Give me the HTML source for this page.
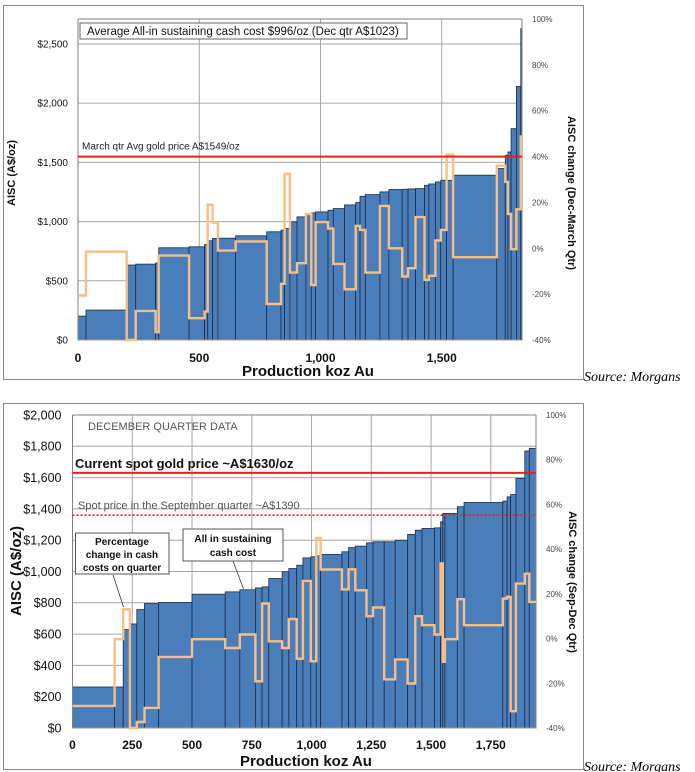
<!DOCTYPE html>
<html><head><meta charset="utf-8"><style>
html,body{margin:0;padding:0;background:#fff;width:695px;height:772px;overflow:hidden}
svg text{font-family:"Liberation Sans",sans-serif}
</style></head><body>
<svg id="svg" width="695" height="772" viewBox="0 0 695 772" xmlns="http://www.w3.org/2000/svg">
<rect x="3.5" y="5.5" width="580" height="374" fill="#fff" stroke="#888"/>
<rect x="3.5" y="403.5" width="580" height="366" fill="#fff" stroke="#888"/>
<g id="c1"></g>
<g id="c2"></g>
<text x="584" y="381" font-size="14" font-style="italic" style="font-family:'Liberation Serif',serif">Source: Morgans</text>
<text x="584" y="771" font-size="14" font-style="italic" style="font-family:'Liberation Serif',serif">Source: Morgans</text>
</svg>
<script>
// ---------- Chart 1 data ----------
const c1Edges = [0,33,201,238,320,333,458,522,535,555,577,650,778,837,852,874,903,940,962,980,1031,1053,1099,1145,1163,1185,1245,1282,1337,1361,1392,1429,1447,1474,1496,1520,1547,1727,1762,1773,1786,1808,1826,1831];
const c1Cost = [202,253,633,641,650,779,787,807,838,858,860,880,914,928,942,998,1040,1068,1074,1082,1096,1110,1141,1161,1214,1228,1251,1271,1273,1276,1279,1307,1318,1335,1349,1349,1392,1448,1560,1588,1785,2142,2629];
const c1Pct = [-20.6,-1.5,-40,-27.3,-36.6,-3.2,-30.5,-27.6,19,11.2,-1,3,-24.3,-15.5,32.5,-10.6,-6.5,15,-16,11.4,8.6,-6.8,-17.9,9.8,8,-10.6,18.5,0,-12.3,-8.7,13.6,-13.8,-12,3.4,8,40.8,-3.9,36,29,15,-0.4,17,48.8];
const c1YTicks = ["$0","$500","$1,000","$1,500","$2,000","$2,500"];
const c1YTickVals = [0,500,1000,1500,2000,2500];
const c1XTickVals = [0,500,1000,1500];
const c1XTicks = ["0","500","1,000","1,500"];
const c1PctTicks = [-40,-20,0,20,40,60,80,100];
const c1Gold = 1549;
// ---------- Chart 2 data ----------
const c2Edges = [0,176,212,240,269,301,360,500,639,700,765,793,821,877,905,938,964,997,1020,1038,1127,1155,1183,1230,1257,1304,1350,1402,1434,1462,1514,1540,1549,1558,1610,1638,1800,1818,1833,1855,1892,1911,1939];
const c2Cost = [262,262,629,665,757,795,802,855,870,883,895,902,955,998,1019,1040,1087,1094,1100,1109,1126,1153,1162,1183,1190,1190,1200,1237,1264,1275,1279,1318,1371,1371,1414,1441,1450,1477,1492,1595,1770,1787];
const c2Pct = [-30.1,-0.3,13.1,-40,-37.3,-31,-8.2,-0.3,-4.2,1.8,-19.1,15.7,-1.2,-4.2,8.7,-9,25.8,-10.1,45,30.9,22,31,21.6,10,13.9,-18.2,-9.3,-20.1,10,6,1.8,33.6,-10.4,-0.3,17.6,6,17.9,18.7,-32.5,24.6,29,16.4];
const c2YTickVals = [0,200,400,600,800,1000,1200,1400,1600,1800,2000];
const c2YTicks = ["$0","$200","$400","$600","$800","$1,000","$1,200","$1,400","$1,600","$1,800","$2,000"];
const c2XTickVals = [0,250,500,750,1000,1250,1500,1750];
const c2XTicks = ["0","250","500","750","1,000","1,250","1,500","1,750"];
const c2PctTicks = [-40,-20,0,20,40,60,80,100];
const c2Gold = 1630;
const c2SepGold = 1360;

const NS="http://www.w3.org/2000/svg";
function mk(parent,tag,attrs,txt){const e=document.createElementNS(NS,tag);for(const k in attrs)e.setAttribute(k,attrs[k]);if(txt!==undefined)e.textContent=txt;parent.appendChild(e);return e;}

function drawChart(g,o){
  const xS=v=>o.L+(v-0)/o.xMax*(o.R-o.L);
  const yS=v=>o.B-v/o.yMax*(o.B-o.T);
  const pS=v=>o.B-(v+40)/140*(o.B-o.T);
  // gridlines
  o.yTickVals.forEach((v,i)=>{
    const l=mk(g,'line',{x1:o.L,x2:o.R,y1:yS(v),y2:yS(v),stroke:'#a6a6a6','stroke-width':1});
    
    
    const t=mk(g,'text',{x:o.L-o.tickPad,y:yS(v)+o.tickFs*0.35,'text-anchor':'end','font-size':o.tickFs,fill:'#111','font-weight':o.tickBold?'bold':'normal'},o.yTicks[i]);
    
    
  });
  o.xTickVals.forEach((v,i)=>{
    const l=mk(g,'line',{x1:xS(v),x2:xS(v),y1:o.T,y2:o.B,stroke:'#a6a6a6','stroke-width':1});
    
    
    const t=mk(g,'text',{x:xS(v),y:o.xLabY,'text-anchor':'middle','font-size':12,'font-weight':'bold',fill:'#111'},o.xTicks[i]);
    
    
  });
  mk(g,'line',{x1:o.L,x2:o.R,y1:o.T,y2:o.T,stroke:'#808080','stroke-width':1});
  // bars
  o.cost.forEach((c,i)=>{
    const x0=xS(o.edges[i]),x1=xS(o.edges[i+1]);
    const r=mk(g,'rect',{x:x0,y:yS(c),width:Math.max(0.5,x1-x0),height:o.B-yS(c),fill:'#4a7ebb',stroke:'#1d2b45','stroke-width':0.8});
    
    
  });
  // axes
  mk(g,'line',{x1:o.L,x2:o.L,y1:o.T,y2:o.B,stroke:'#808080'});
  mk(g,'line',{x1:o.R,x2:o.R,y1:o.T,y2:o.B,stroke:'#808080'});
  mk(g,'line',{x1:o.L,x2:o.R,y1:o.B,y2:o.B,stroke:'#9a9a9a'});
  // pct line
  let d='';
  o.pct.forEach((p,i)=>{
    const x0=xS(o.edges[i]),x1=xS(o.edges[i+1]),y=pS(p);
    d+=(i===0?'M':'L')+x0.toFixed(1)+','+y.toFixed(1)+' L'+x1.toFixed(1)+','+y.toFixed(1)+' ';
  });
  const pl=mk(g,'path',{d:d,fill:'none',stroke:'#f9bd86','stroke-width':2.4,'stroke-linejoin':'miter'});
  
  
  // right ticks
  o.pctTicks.forEach(v=>{
    const t=mk(g,'text',{x:o.R+10,y:pS(v)+3,'font-size':8,fill:'#444'},v+'%');
    
    
  });
  return {xS,yS,pS};
}

// ---------- Chart 1 ----------
const g1=document.getElementById('c1');
const a1=drawChart(g1,{L:78,R:522,T:19,B:340,xMax:1831,yMax:2711,edges:c1Edges,cost:c1Cost,pct:c1Pct,yTickVals:c1YTickVals,yTicks:c1YTicks,xTickVals:c1XTickVals,xTicks:c1XTicks,pctTicks:c1PctTicks,tickFs:10,tickPad:10,xLabY:362,tickBold:false});
{
  const gl=mk(g1,'line',{x1:78,x2:522,y1:a1.yS(c1Gold),y2:a1.yS(c1Gold),stroke:'#e8201a','stroke-width':2});
  
  
  const gt=mk(g1,'text',{x:82,y:a1.yS(c1Gold)-7,'font-size':10,fill:'#222'},'March qtr Avg gold price A$1549/oz');
  
  
  const bx=mk(g1,'rect',{x:80,y:23,width:327,height:16,fill:'#fff',stroke:'#666'});
  
  
  const bt=mk(g1,'text',{x:87,y:35,'font-size':11.5,fill:'#111'},'Average All-in sustaining cash cost $996/oz (Dec qtr A$1023)');
  
  
  const xt=mk(g1,'text',{x:308,y:376,'text-anchor':'middle','font-size':15,'font-weight':'bold',fill:'#111'},'Production koz Au');
  
  
  const yt=mk(g1,'text',{transform:'translate(15,173) rotate(-90)','text-anchor':'middle','font-size':11,'font-weight':'bold',fill:'#111'},'AISC (A$/oz)');
  
  
  const rt=mk(g1,'text',{transform:'translate(568,193) rotate(90)','text-anchor':'middle','font-size':11,'font-weight':'bold',fill:'#111'},'AISC change (Dec-March Qtr)');
  
  
}

// ---------- Chart 2 ----------
const g2=document.getElementById('c2');
const a2=drawChart(g2,{L:72.5,R:536,T:415,B:728,xMax:1939,yMax:2000,edges:c2Edges,cost:c2Cost,pct:c2Pct,yTickVals:c2YTickVals,yTicks:c2YTicks,xTickVals:c2XTickVals,xTicks:c2XTicks,pctTicks:c2PctTicks,tickFs:12.5,tickPad:11,xLabY:749,tickBold:false});
{
  const t1=mk(g2,'text',{x:88,y:430,'font-size':11,fill:'#555'},'DECEMBER QUARTER DATA');
  
  
  const gl=mk(g2,'line',{x1:72.5,x2:536,y1:a2.yS(c2Gold),y2:a2.yS(c2Gold),stroke:'#e8201a','stroke-width':2});
  
  
  const gt=mk(g2,'text',{x:75,y:a2.yS(c2Gold)-5,'font-size':13,'font-weight':'bold',fill:'#111'},'Current spot gold price ~A$1630/oz');
  
  
  const sl=mk(g2,'line',{x1:72.5,x2:536,y1:a2.yS(c2SepGold),y2:a2.yS(c2SepGold),stroke:'#e8201a','stroke-width':1.6,'stroke-dasharray':'2,2'});
  
  
  const st=mk(g2,'text',{x:78,y:a2.yS(c2SepGold)-6,'font-size':11,fill:'#555'},'Spot price in the September quarter ~A$1390');
  
  
  // callouts
  mk(g2,'line',{x1:113,y1:575,x2:123.5,y2:607,stroke:'#333','stroke-width':0.8});
  mk(g2,'line',{x1:233,y1:561,x2:243.5,y2:589,stroke:'#333','stroke-width':0.8});
  const b1=mk(g2,'rect',{x:75.5,y:533,width:93.5,height:41,fill:'#fff',stroke:'#555'});
  
  
  ['Percentage','change in cash','costs on quarter'].forEach((s,i)=>{
    const t=mk(g2,'text',{x:122,y:545+i*13,'text-anchor':'middle','font-size':10,'font-weight':'bold',fill:'#111'},s);
    
    
  });
  const b2=mk(g2,'rect',{x:183,y:529,width:100,height:32,fill:'#fff',stroke:'#555'});
  
  
  ['All in sustaining','cash cost'].forEach((s,i)=>{
    const t=mk(g2,'text',{x:233,y:542+i*14,'text-anchor':'middle','font-size':10,'font-weight':'bold',fill:'#111'},s);
    
    
  });
  const xt=mk(g2,'text',{x:306,y:766,'text-anchor':'middle','font-size':15,'font-weight':'bold',fill:'#111'},'Production koz Au');
  
  
  const yt=mk(g2,'text',{transform:'translate(21,571) rotate(-90)','text-anchor':'middle','font-size':15,'font-weight':'bold',fill:'#111'},'AISC  (A$/oz)');
  
  
  const rt=mk(g2,'text',{transform:'translate(569,582) rotate(90)','text-anchor':'middle','font-size':11,'font-weight':'bold',fill:'#111'},'AISC change (Sep-Dec Qtr)');
  
  
}
</script>
</body></html>
